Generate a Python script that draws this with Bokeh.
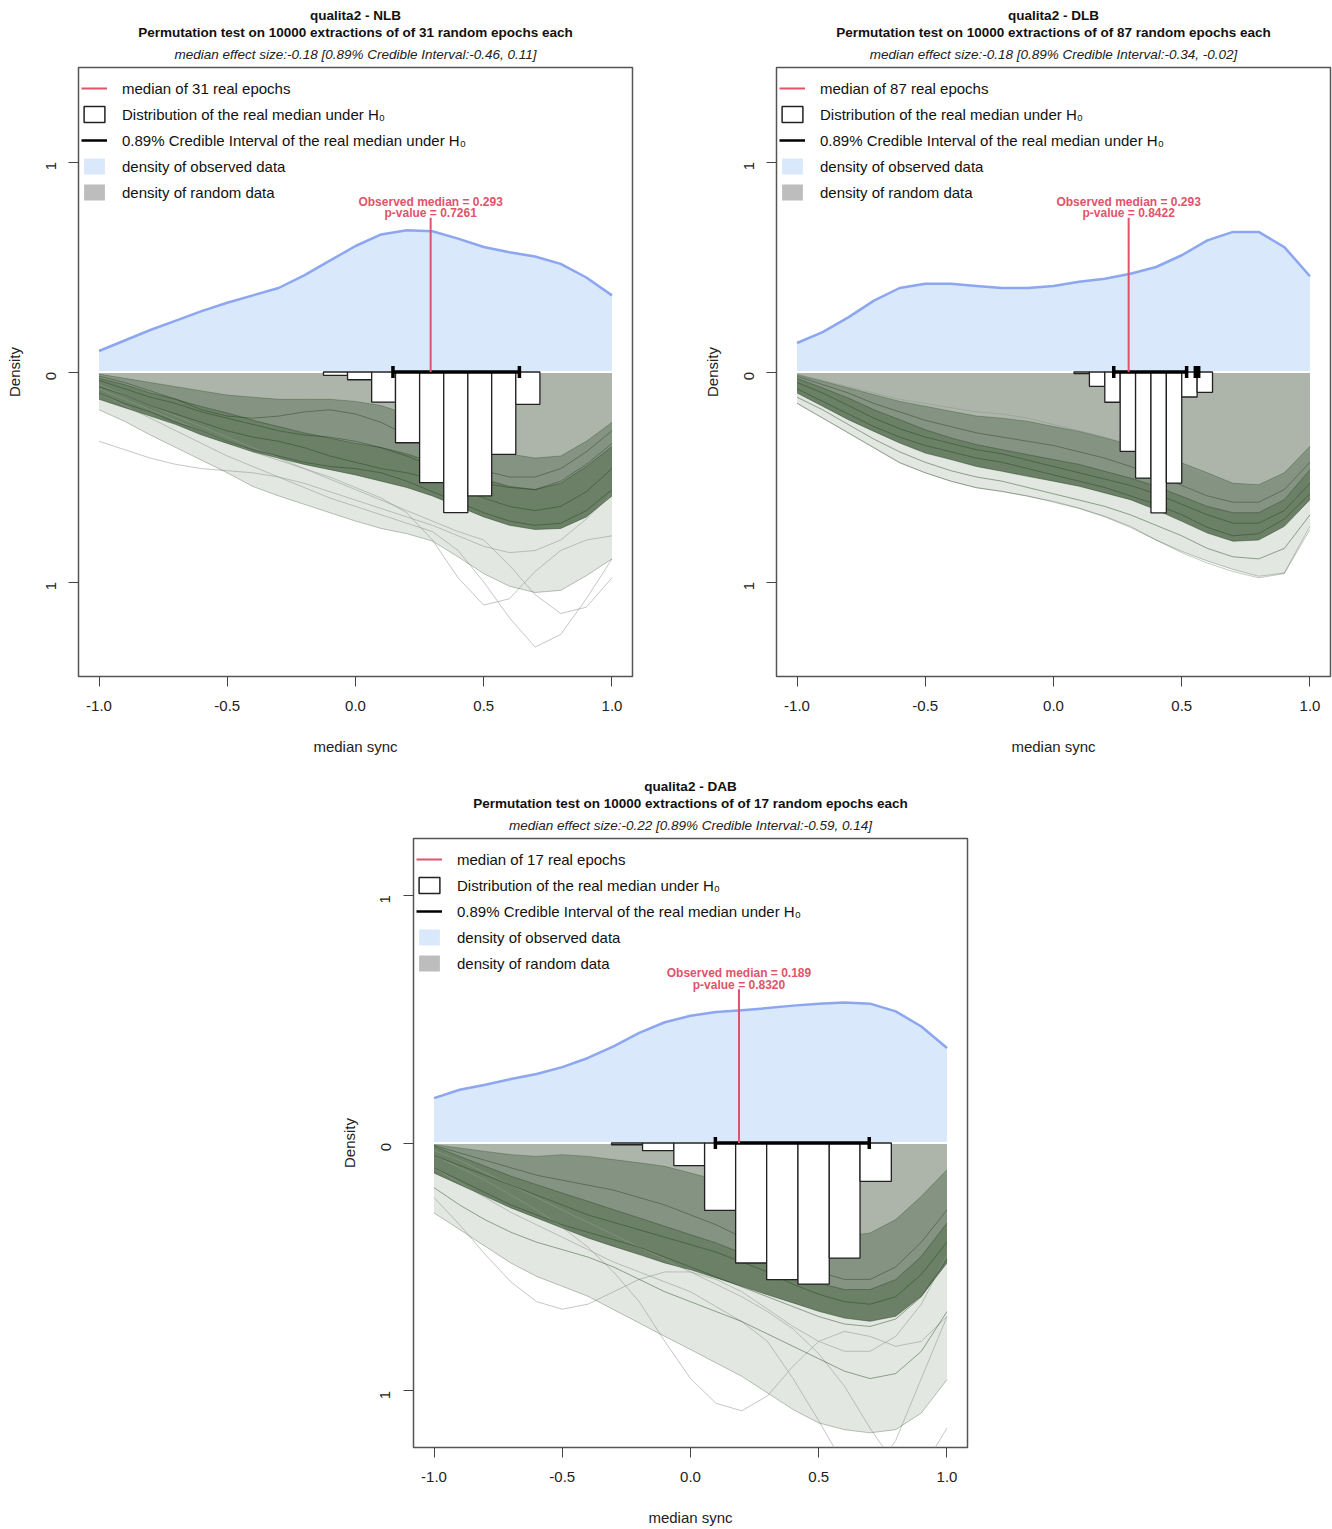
import math
from bokeh.plotting import figure
from bokeh.models import (Range1d, FixedTicker, Title, Legend, LegendItem, Spacer,
                          NumeralTickFormatter)
from bokeh.layouts import row, column
from bokeh.embed import file_html
from bokeh.resources import INLINE
from bokeh.core.properties import value

FONT = "Liberation Sans"

# ---------------- data ----------------
X_GRID = [-1.0, -0.9, -0.8, -0.7, -0.6, -0.5, -0.4, -0.3, -0.2, -0.1, 0.0,
          0.1, 0.2, 0.3, 0.4, 0.5, 0.6, 0.7, 0.8, 0.9, 1.0]

# ---- NLB ----
nlb_title = "qualita2 - NLB"
nlb_n_epochs = 31
nlb_effect = "median effect size:-0.18 [0.89% Credible Interval:-0.46, 0.11]"
nlb_obs_density = [0.10, 0.15, 0.20, 0.245, 0.29, 0.33, 0.365, 0.40, 0.46, 0.53, 0.60,
                   0.655, 0.675, 0.67, 0.635, 0.595, 0.57, 0.55, 0.515, 0.45, 0.365]
nlb_hist_edges = [-0.125, -0.031, 0.063, 0.156, 0.25, 0.344, 0.438, 0.531, 0.625, 0.719]
nlb_hist_density = [0.016, 0.037, 0.143, 0.337, 0.527, 0.67, 0.59, 0.392, 0.154]
nlb_ci = [0.146, 0.639]
nlb_ci_extra = []
nlb_median = 0.293
nlb_median_top = 0.735
nlb_pvalue = "0.7261"
nlb_rand_top = [0.01, 0.03, 0.05, 0.07, 0.09, 0.11, 0.12, 0.13, 0.13, 0.13, 0.14,
                0.16, 0.20, 0.25, 0.30, 0.35, 0.39, 0.41, 0.40, 0.33, 0.24]
nlb_core_hi = [0.03, 0.06, 0.10, 0.13, 0.165, 0.195, 0.23, 0.26, 0.29, 0.315, 0.34,
               0.36, 0.39, 0.43, 0.47, 0.51, 0.545, 0.56, 0.53, 0.45, 0.355]
nlb_core_lo = [0.13, 0.17, 0.21, 0.25, 0.30, 0.34, 0.38, 0.41, 0.44, 0.465, 0.49,
               0.52, 0.55, 0.59, 0.64, 0.69, 0.73, 0.75, 0.745, 0.69, 0.59]
nlb_rand_bottom = [0.18, 0.235, 0.30, 0.36, 0.42, 0.48, 0.545, 0.59, 0.63, 0.67, 0.71,
                   0.745, 0.77, 0.805, 0.88, 0.96, 1.02, 1.05, 1.04, 0.97, 0.89]
nlb_rand_curves = [
    [0.04, 0.08, 0.12, 0.15, 0.19, 0.22, 0.25, 0.28, 0.30, 0.31, 0.33, 0.36, 0.40, 0.45, 0.49, 0.53, 0.55, 0.56, 0.52, 0.44, 0.34],
    [0.07, 0.11, 0.16, 0.20, 0.24, 0.28, 0.31, 0.33, 0.36, 0.40, 0.43, 0.46, 0.48, 0.51, 0.55, 0.60, 0.64, 0.66, 0.64, 0.57, 0.46],
    [0.10, 0.15, 0.19, 0.24, 0.28, 0.33, 0.37, 0.40, 0.43, 0.45, 0.46, 0.48, 0.52, 0.57, 0.62, 0.67, 0.71, 0.73, 0.72, 0.66, 0.56],
    [0.02, 0.05, 0.09, 0.13, 0.18, 0.21, 0.22, 0.21, 0.19, 0.18, 0.20, 0.24, 0.30, 0.36, 0.42, 0.47, 0.50, 0.50, 0.46, 0.38, 0.28],
]
nlb_rand_outliers = [
    [0.33, 0.37, 0.41, 0.44, 0.46, 0.47, 0.48, 0.50, 0.53, 0.57, 0.61, 0.65, 0.69, 0.73, 0.78, 0.83, 0.86, 0.85, 0.80, 0.70, 0.58],
    [0.10, 0.16, 0.22, 0.28, 0.34, 0.40, 0.45, 0.50, 0.55, 0.60, 0.64, 0.68, 0.72, 0.76, 0.85, 1.00, 1.17, 1.31, 1.25, 1.08, 0.89],
    [0.08, 0.13, 0.18, 0.23, 0.28, 0.33, 0.38, 0.42, 0.46, 0.50, 0.55, 0.60, 0.67, 0.80, 0.98, 1.11, 1.08, 0.95, 0.85, 0.80, 0.78],
    [0.06, 0.11, 0.16, 0.21, 0.26, 0.31, 0.36, 0.41, 0.46, 0.51, 0.56, 0.61, 0.66, 0.71, 0.76, 0.80, 0.92, 1.06, 1.15, 1.12, 0.98],
]

# ---- DLB ----
dlb_title = "qualita2 - DLB"
dlb_n_epochs = 87
dlb_effect = "median effect size:-0.18 [0.89% Credible Interval:-0.34, -0.02]"
dlb_obs_density = [0.138, 0.19, 0.26, 0.34, 0.40, 0.42, 0.42, 0.41, 0.40, 0.40, 0.41,
                   0.43, 0.444, 0.468, 0.50, 0.556, 0.627, 0.667, 0.667, 0.595, 0.456]
dlb_hist_edges = [0.08, 0.14, 0.20, 0.26, 0.32, 0.38, 0.44, 0.50, 0.56, 0.62]
dlb_hist_density = [0.008, 0.068, 0.144, 0.378, 0.505, 0.671, 0.529, 0.119, 0.097]
dlb_ci = [0.235, 0.519]
dlb_ci_extra = [0.553, 0.566]
dlb_median = 0.293
dlb_median_top = 0.735
dlb_pvalue = "0.8422"
dlb_rand_top = [0.013, 0.044, 0.076, 0.108, 0.14, 0.163, 0.187, 0.21, 0.22, 0.235, 0.26,
                0.283, 0.314, 0.346, 0.386, 0.433, 0.48, 0.53, 0.537, 0.48, 0.354]
dlb_core_hi = [0.03, 0.076, 0.124, 0.18, 0.227, 0.275, 0.314, 0.346, 0.37, 0.394, 0.417,
               0.44, 0.473, 0.505, 0.544, 0.592, 0.64, 0.67, 0.67, 0.608, 0.465]
dlb_core_lo = [0.10, 0.163, 0.227, 0.283, 0.338, 0.386, 0.417, 0.45, 0.473, 0.497, 0.52,
               0.544, 0.576, 0.608, 0.656, 0.711, 0.767, 0.806, 0.80, 0.735, 0.608]
dlb_rand_bottom = [0.148, 0.219, 0.29, 0.362, 0.433, 0.48, 0.52, 0.552, 0.568, 0.592, 0.616,
                   0.648, 0.687, 0.735, 0.80, 0.854, 0.90, 0.94, 0.973, 0.957, 0.735]
dlb_rand_curves = [
    [0.02, 0.06, 0.10, 0.15, 0.19, 0.23, 0.26, 0.29, 0.31, 0.33, 0.35, 0.38, 0.41, 0.45, 0.49, 0.54, 0.59, 0.62, 0.62, 0.56, 0.43],
    [0.05, 0.10, 0.16, 0.22, 0.27, 0.31, 0.34, 0.37, 0.39, 0.42, 0.45, 0.48, 0.51, 0.54, 0.58, 0.63, 0.68, 0.72, 0.72, 0.66, 0.53],
    [0.08, 0.14, 0.20, 0.26, 0.31, 0.35, 0.38, 0.41, 0.43, 0.46, 0.49, 0.52, 0.55, 0.59, 0.63, 0.68, 0.74, 0.78, 0.77, 0.70, 0.58],
    [0.12, 0.18, 0.25, 0.32, 0.38, 0.43, 0.47, 0.50, 0.52, 0.55, 0.58, 0.61, 0.64, 0.68, 0.73, 0.78, 0.84, 0.88, 0.89, 0.84, 0.68],
]
dlb_rand_outliers = [
    [0.01, 0.04, 0.07, 0.10, 0.13, 0.15, 0.17, 0.19, 0.20, 0.22, 0.25, 0.28, 0.31, 0.35, 0.39, 0.44, 0.49, 0.53, 0.54, 0.48, 0.36],
    [0.15, 0.22, 0.29, 0.36, 0.43, 0.48, 0.52, 0.55, 0.57, 0.59, 0.62, 0.65, 0.69, 0.74, 0.80, 0.86, 0.91, 0.95, 0.98, 0.96, 0.75],
]

# ---- DAB ----
dab_title = "qualita2 - DAB"
dab_n_epochs = 17
dab_effect = "median effect size:-0.22 [0.89% Credible Interval:-0.59, 0.14]"
dab_obs_density = [0.181, 0.215, 0.235, 0.258, 0.278, 0.306, 0.343, 0.39, 0.444, 0.487, 0.513,
                   0.528, 0.535, 0.544, 0.554, 0.562, 0.567, 0.562, 0.531, 0.47, 0.383]
dab_hist_edges = [-0.308, -0.187, -0.065, 0.055, 0.176, 0.297, 0.419, 0.541, 0.661, 0.783]
dab_hist_density = [0.007, 0.031, 0.091, 0.272, 0.484, 0.551, 0.569, 0.464, 0.155]
dab_ci = [0.097, 0.697]
dab_ci_extra = []
dab_median = 0.189
dab_median_top = 0.62
dab_pvalue = "0.8320"
dab_rand_top = [0.007, 0.02, 0.034, 0.047, 0.054, 0.047, 0.054, 0.067, 0.08, 0.094, 0.121,
                0.148, 0.188, 0.242, 0.296, 0.35, 0.376, 0.363, 0.309, 0.215, 0.108]
dab_core_hi = [0.013, 0.054, 0.094, 0.134, 0.168, 0.202, 0.235, 0.269, 0.302, 0.336, 0.37,
               0.403, 0.444, 0.484, 0.524, 0.565, 0.591, 0.591, 0.551, 0.457, 0.323]
dab_core_lo = [0.121, 0.168, 0.215, 0.262, 0.302, 0.343, 0.383, 0.417, 0.45, 0.484, 0.511,
               0.544, 0.578, 0.612, 0.645, 0.679, 0.706, 0.719, 0.699, 0.618, 0.484]
dab_rand_bottom = [0.282, 0.349, 0.417, 0.484, 0.538, 0.578, 0.618, 0.672, 0.726, 0.78, 0.833,
                   0.887, 0.941, 1.008, 1.075, 1.129, 1.156, 1.169, 1.156, 1.089, 0.954]
dab_rand_curves = [
    [0.01, 0.04, 0.07, 0.10, 0.13, 0.15, 0.17, 0.19, 0.22, 0.25, 0.29, 0.33, 0.38, 0.43, 0.48, 0.52, 0.55, 0.55, 0.50, 0.40, 0.27],
    [0.05, 0.09, 0.13, 0.17, 0.21, 0.25, 0.29, 0.32, 0.35, 0.38, 0.41, 0.44, 0.48, 0.52, 0.57, 0.61, 0.64, 0.65, 0.62, 0.53, 0.40],
    [0.10, 0.15, 0.20, 0.25, 0.29, 0.33, 0.36, 0.39, 0.42, 0.46, 0.50, 0.54, 0.58, 0.62, 0.66, 0.70, 0.73, 0.74, 0.71, 0.62, 0.47],
    [0.18, 0.25, 0.31, 0.36, 0.40, 0.43, 0.46, 0.50, 0.55, 0.60, 0.64, 0.68, 0.72, 0.77, 0.82, 0.87, 0.92, 0.95, 0.93, 0.84, 0.68],
]
dab_rand_outliers = [
    [0.22, 0.33, 0.45, 0.56, 0.64, 0.67, 0.65, 0.60, 0.55, 0.52, 0.52, 0.55, 0.60, 0.67, 0.74, 0.80, 0.84, 0.84, 0.78, 0.65, 0.45],
    [0.05, 0.10, 0.15, 0.21, 0.27, 0.34, 0.42, 0.52, 0.64, 0.80, 0.95, 1.05, 1.08, 1.02, 0.90, 0.80, 0.76, 0.78, 0.82, 0.80, 0.70],
    [0.10, 0.16, 0.22, 0.28, 0.33, 0.38, 0.43, 0.48, 0.52, 0.56, 0.60, 0.66, 0.72, 0.80, 0.95, 1.12, 1.30, 1.35, 1.20, 0.95, 0.70],
    [0.03, 0.07, 0.12, 0.17, 0.22, 0.27, 0.32, 0.37, 0.42, 0.47, 0.52, 0.57, 0.62, 0.68, 0.75, 0.85, 0.98, 1.15, 1.30, 1.32, 1.15],
]

X_TICKS = [-1.0, -0.5, 0.0, 0.5, 1.0]
Y_TICKS = [-1, 0, 1]
Y_TICK_LABELS = {-1: "1", 0: "0", 1: "1"}

# ---------------- style ----------------
RED = "#DF536B"
BLUE_LINE = "#8ca6f0"
BLUE_FILL = "#d9e8fb"
GRAY_FILL = "#adb5aa"
GREEN = "#24431f"
OUTLIER = "#8f9a8f"


def neg(a):
    return [-v for v in a]


def make_panel(title, n_epochs, effect, obs, edges, hist, ci, ci_extra, med, med_top,
               pval, r_top, c_hi, c_lo, r_bot, curves, outliers, y_lim,
               border_left, border_right, border_bottom):
    p = figure(frame_width=554, frame_height=609, output_backend="svg",
               toolbar_location=None, x_range=Range1d(-1.08, 1.08),
               y_range=Range1d(-y_lim, y_lim),
               min_border_left=border_left, min_border_right=border_right,
               min_border_top=67, min_border_bottom=border_bottom,
               title=title)
    p.title.text_font = FONT
    p.title.text_font_size = "13.5px"
    p.title.text_font_style = "bold"
    p.title.align = "center"
    p.title.text_color = "#111111"
    p.title.standoff = 0
    p.title.offset = 0
    t3 = Title(text=effect, text_font=FONT, text_font_size="13.5px", text_font_style="italic",
               align="center", standoff=11, text_color="#222222")
    t2 = Title(text="Permutation test on 10000 extractions of of %d random epochs each" % n_epochs,
               text_font=FONT, text_font_size="13.5px", text_font_style="bold",
               align="center", standoff=0, text_color="#111111")
    p.add_layout(t3, "above")
    p.add_layout(t2, "above")

    p.xgrid.visible = False
    p.ygrid.visible = False
    p.outline_line_color = "#555555"
    p.outline_line_width = 1.5
    p.background_fill_color = "white"
    p.border_fill_color = "white"

    # observed density
    p.varea(x=X_GRID, y1=[0] * len(X_GRID), y2=obs, fill_color=BLUE_FILL)
    p.line(x=X_GRID, y=obs, line_color=BLUE_LINE, line_width=2.5, line_join="round")

    # random densities (mirrored below zero)
    p.varea(x=X_GRID, y1=[0] * len(X_GRID), y2=neg(c_hi), fill_color=GRAY_FILL)
    p.varea(x=X_GRID, y1=neg(r_top), y2=neg(r_bot), fill_color=GREEN, fill_alpha=0.13)
    p.varea(x=X_GRID, y1=neg(r_top), y2=neg(c_lo), fill_color=GREEN, fill_alpha=0.18)
    p.varea(x=X_GRID, y1=neg(c_hi), y2=neg(c_lo), fill_color=GREEN, fill_alpha=0.55)
    for c in outliers:
        p.line(x=X_GRID, y=neg(c), line_color=OUTLIER, line_alpha=0.55, line_width=1,
               line_join="round")
    for c in [r_top, r_bot]:
        p.line(x=X_GRID, y=neg(c), line_color=GREEN, line_alpha=0.3, line_width=1,
               line_join="round")
    for c in curves + [c_hi, c_lo]:
        p.line(x=X_GRID, y=neg(c), line_color=GREEN, line_alpha=0.45, line_width=1,
               line_join="round")

    p.segment(x0=[-1.0], y0=[0], x1=[1.0], y1=[0], line_color="white", line_width=2)

    # histogram of the median under H0
    p.quad(left=edges[:-1], right=edges[1:], top=[0] * len(hist), bottom=neg(hist),
           fill_color="white", line_color="#222222", line_width=1.3)

    # credible interval
    p.segment(x0=[ci[0]], y0=[0], x1=[ci[1]], y1=[0], line_color="black", line_width=3.5)
    p.scatter(x=ci, y=[0, 0], marker="dash", angle=math.pi / 2, size=12,
              line_color="black", line_width=3.5)
    if ci_extra:
        p.segment(x0=[ci_extra[0]], y0=[0], x1=[ci_extra[1]], y1=[0],
                  line_color="black", line_width=3.5)
        p.scatter(x=ci_extra, y=[0, 0], marker="dash", angle=math.pi / 2, size=12,
                  line_color="black", line_width=3.5)

    # observed median
    p.segment(x0=[med], y0=[0], x1=[med], y1=[med_top], line_color=RED, line_width=2)
    p.text(x=[med], y=[med_top], text=["p-value = " + pval], text_align="center",
           text_baseline="middle", y_offset=-4.5, text_color=RED,
           text_font=value(FONT), text_font_size="12px", text_font_style="bold")
    p.text(x=[med], y=[med_top], text=["Observed median = %.3f" % med],
           text_align="center", text_baseline="middle", y_offset=-16, text_color=RED,
           text_font=value(FONT), text_font_size="12px", text_font_style="bold")

    # legend (off-range renderers carry the swatch styles)
    far = [10.0, 11.0]
    r1 = p.line(x=far, y=far, line_color=RED, line_width=2)
    r2 = p.quad(left=[10.0], right=[11.0], top=[11.0], bottom=[10.0], fill_color="white",
                line_color="#222222", line_width=1.5)
    r3 = p.line(x=far, y=far, line_color="black", line_width=2.5)
    r4 = p.quad(left=[10.0], right=[11.0], top=[11.0], bottom=[10.0],
                fill_color=BLUE_FILL, line_color=None)
    r5 = p.quad(left=[10.0], right=[11.0], top=[11.0], bottom=[10.0],
                fill_color="#bdbdbd", line_color=None)
    items = [
        LegendItem(label="median of %d real epochs" % n_epochs, renderers=[r1]),
        LegendItem(label="Distribution of the real median under H\u2080", renderers=[r2]),
        LegendItem(label="0.89% Credible Interval of the real median under H\u2080", renderers=[r3]),
        LegendItem(label="density of observed data", renderers=[r4]),
        LegendItem(label="density of random data", renderers=[r5]),
    ]
    legend = Legend(items=items, location=(3, 474), padding=0, margin=0,
                    spacing=6, glyph_width=26, glyph_height=20, label_height=20,
                    label_standoff=15, label_text_font=FONT, label_text_font_size="15px",
                    label_text_color="#111111",
                    background_fill_alpha=0, border_line_color=None)
    p.add_layout(legend)

    # axes
    p.xaxis.ticker = FixedTicker(ticks=X_TICKS)
    p.xaxis.formatter = NumeralTickFormatter(format="0.0")
    p.yaxis.ticker = FixedTicker(ticks=Y_TICKS)
    p.yaxis.major_label_overrides = Y_TICK_LABELS
    p.yaxis.major_label_orientation = math.pi / 2
    p.xaxis.axis_label = "median sync"
    p.yaxis.axis_label = "Density"
    for ax in (p.xaxis[0], p.yaxis[0]):
        ax.axis_line_color = None
        ax.major_tick_out = 10
        ax.major_tick_in = 0
        ax.minor_tick_out = 0
        ax.minor_tick_in = 0
        ax.major_tick_line_color = "#444444"
        ax.major_label_text_font = FONT
        ax.major_label_text_font_size = "15px"
        ax.major_label_text_color = "#222222"
        ax.axis_label_text_font = FONT
        ax.axis_label_text_font_size = "15px"
        ax.axis_label_text_font_style = "normal"
        ax.axis_label_text_color = "#222222"
    p.xaxis.major_label_standoff = 14
    p.xaxis.axis_label_standoff = 24
    p.yaxis.major_label_standoff = 18
    p.yaxis.axis_label_standoff = 15
    return p


p1 = make_panel(nlb_title, nlb_n_epochs, nlb_effect, nlb_obs_density, nlb_hist_edges,
                nlb_hist_density, nlb_ci, nlb_ci_extra, nlb_median, nlb_median_top,
                nlb_pvalue, nlb_rand_top, nlb_core_hi, nlb_core_lo, nlb_rand_bottom,
                nlb_rand_curves, nlb_rand_outliers, 1.45, 78, 67, 95)
p2 = make_panel(dlb_title, dlb_n_epochs, dlb_effect, dlb_obs_density, dlb_hist_edges,
                dlb_hist_density, dlb_ci, dlb_ci_extra, dlb_median, dlb_median_top,
                dlb_pvalue, dlb_rand_top, dlb_core_hi, dlb_core_lo, dlb_rand_bottom,
                dlb_rand_curves, dlb_rand_outliers, 1.45, 77, 2, 95)
p3 = make_panel(dab_title, dab_n_epochs, dab_effect, dab_obs_density, dab_hist_edges,
                dab_hist_density, dab_ci, dab_ci_extra, dab_median, dab_median_top,
                dab_pvalue, dab_rand_top, dab_core_hi, dab_core_lo, dab_rand_bottom,
                dab_rand_curves, dab_rand_outliers, 1.228, 78, 30, 78)

layout = column(row(p1, p2), row(Spacer(width=335, height=10), p3))
open("out.html", "w").write(file_html(layout, INLINE))
